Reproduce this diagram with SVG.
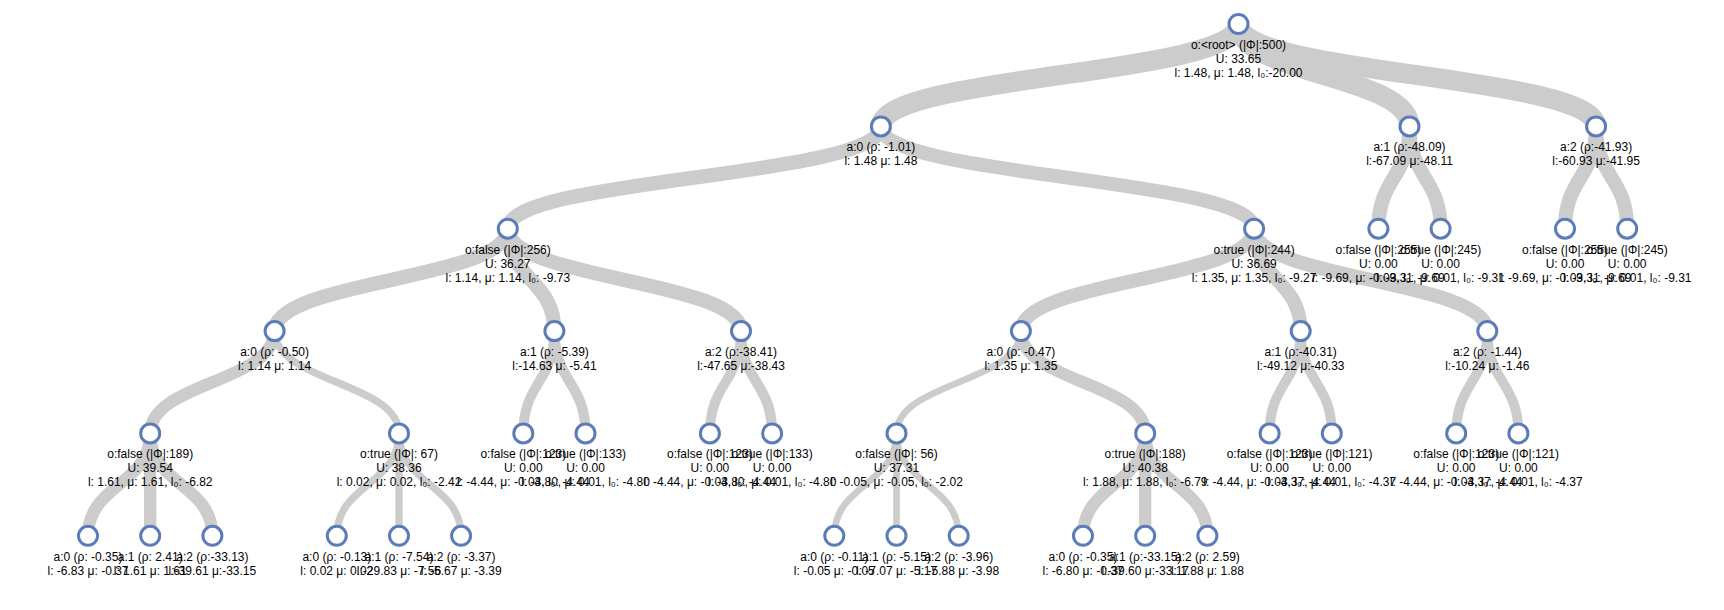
<svg xmlns="http://www.w3.org/2000/svg" width="1724" height="610" viewBox="0 0 1724 610">
<style>
.links path{fill:none;stroke:#ccc}
.node circle{fill:#fff;stroke:#5b7cb8;stroke-width:3}
.node text{font-family:"Liberation Sans",Arial,sans-serif;font-size:12px;fill:#000;text-anchor:middle}
</style>
<rect width="1724" height="610" fill="#fff"/>
<g id="links" class="links">
<path d="M1238.5,24C1238.5,75.2 880.9,75.2 880.9,126.4" stroke-width="20"/>
<path d="M1238.5,24C1238.5,75.2 1409.5,75.2 1409.5,126.4" stroke-width="20"/>
<path d="M1238.5,24C1238.5,75.2 1596.1,75.2 1596.1,126.4" stroke-width="20"/>
<path d="M880.9,126.4C880.9,177.55 507.8,177.55 507.8,228.7" stroke-width="14.31"/>
<path d="M880.9,126.4C880.9,177.55 1254.1,177.55 1254.1,228.7" stroke-width="13.97"/>
<path d="M1409.5,126.4C1409.5,177.55 1378.4,177.55 1378.4,228.7" stroke-width="14.28"/>
<path d="M1409.5,126.4C1409.5,177.55 1440.6,177.55 1440.6,228.7" stroke-width="14"/>
<path d="M1596.1,126.4C1596.1,177.55 1565,177.55 1565,228.7" stroke-width="14.28"/>
<path d="M1596.1,126.4C1596.1,177.55 1627.2,177.55 1627.2,228.7" stroke-width="14"/>
<path d="M507.8,228.7C507.8,279.9 274.6,279.9 274.6,331.1" stroke-width="14.31"/>
<path d="M507.8,228.7C507.8,279.9 554.4,279.9 554.4,331.1" stroke-width="14.31"/>
<path d="M507.8,228.7C507.8,279.9 741,279.9 741,331.1" stroke-width="14.31"/>
<path d="M1254.1,228.7C1254.1,279.9 1020.9,279.9 1020.9,331.1" stroke-width="13.97"/>
<path d="M1254.1,228.7C1254.1,279.9 1300.7,279.9 1300.7,331.1" stroke-width="13.97"/>
<path d="M1254.1,228.7C1254.1,279.9 1487.3,279.9 1487.3,331.1" stroke-width="13.97"/>
<path d="M274.6,331.1C274.6,382.25 150.2,382.25 150.2,433.4" stroke-width="12.3"/>
<path d="M274.6,331.1C274.6,382.25 399,382.25 399,433.4" stroke-width="7.32"/>
<path d="M554.4,331.1C554.4,382.25 523.3,382.25 523.3,433.4" stroke-width="9.92"/>
<path d="M554.4,331.1C554.4,382.25 585.5,382.25 585.5,433.4" stroke-width="10.31"/>
<path d="M741,331.1C741,382.25 709.9,382.25 709.9,433.4" stroke-width="9.92"/>
<path d="M741,331.1C741,382.25 772.1,382.25 772.1,433.4" stroke-width="10.31"/>
<path d="M1020.9,331.1C1020.9,382.25 896.5,382.25 896.5,433.4" stroke-width="6.69"/>
<path d="M1020.9,331.1C1020.9,382.25 1145.2,382.25 1145.2,433.4" stroke-width="12.26"/>
<path d="M1300.7,331.1C1300.7,382.25 1269.6,382.25 1269.6,433.4" stroke-width="9.92"/>
<path d="M1300.7,331.1C1300.7,382.25 1331.8,382.25 1331.8,433.4" stroke-width="9.84"/>
<path d="M1487.3,331.1C1487.3,382.25 1456.2,382.25 1456.2,433.4" stroke-width="9.92"/>
<path d="M1487.3,331.1C1487.3,382.25 1518.4,382.25 1518.4,433.4" stroke-width="9.84"/>
<path d="M150.2,433.4C150.2,484.6 88,484.6 88,535.8" stroke-width="12.3"/>
<path d="M150.2,433.4C150.2,484.6 150.2,484.6 150.2,535.8" stroke-width="12.3"/>
<path d="M150.2,433.4C150.2,484.6 212.4,484.6 212.4,535.8" stroke-width="12.3"/>
<path d="M399,433.4C399,484.6 336.8,484.6 336.8,535.8" stroke-width="7.32"/>
<path d="M399,433.4C399,484.6 399,484.6 399,535.8" stroke-width="7.32"/>
<path d="M399,433.4C399,484.6 461.1,484.6 461.1,535.8" stroke-width="7.32"/>
<path d="M896.5,433.4C896.5,484.6 834.3,484.6 834.3,535.8" stroke-width="6.69"/>
<path d="M896.5,433.4C896.5,484.6 896.5,484.6 896.5,535.8" stroke-width="6.69"/>
<path d="M896.5,433.4C896.5,484.6 958.7,484.6 958.7,535.8" stroke-width="6.69"/>
<path d="M1145.2,433.4C1145.2,484.6 1083,484.6 1083,535.8" stroke-width="12.26"/>
<path d="M1145.2,433.4C1145.2,484.6 1145.2,484.6 1145.2,535.8" stroke-width="12.26"/>
<path d="M1145.2,433.4C1145.2,484.6 1207.4,484.6 1207.4,535.8" stroke-width="12.26"/>
</g>
<g id="nodes">
<g id="n-root" class="node" transform="translate(1238.5,24)"><circle r="9.5"/><text y="25">o:&lt;root&gt; (|Φ|:500)</text><text y="39">U: 33.65</text><text y="53">l: 1.48, μ: 1.48, l₀:-20.00</text></g>
<g id="n-a0" class="node" transform="translate(880.9,126.4)"><circle r="9.5"/><text y="25">a:0 (ρ: -1.01)</text><text y="39">l: 1.48 μ: 1.48</text></g>
<g id="n-a1" class="node" transform="translate(1409.5,126.4)"><circle r="9.5"/><text y="25">a:1 (ρ:-48.09)</text><text y="39">l:-67.09 μ:-48.11</text></g>
<g id="n-a2" class="node" transform="translate(1596.1,126.4)"><circle r="9.5"/><text y="25">a:2 (ρ:-41.93)</text><text y="39">l:-60.93 μ:-41.95</text></g>
<g id="n-a0-of" class="node" transform="translate(507.8,228.7)"><circle r="9.5"/><text y="25">o:false (|Φ|:256)</text><text y="39">U: 36.27</text><text y="53">l: 1.14, μ: 1.14, l₀: -9.73</text></g>
<g id="n-a0-ot" class="node" transform="translate(1254.1,228.7)"><circle r="9.5"/><text y="25">o:true (|Φ|:244)</text><text y="39">U: 36.69</text><text y="53">l: 1.35, μ: 1.35, l₀: -9.27</text></g>
<g id="n-a1-of" class="node" transform="translate(1378.4,228.7)"><circle r="9.5"/><text y="25">o:false (|Φ|:255)</text><text y="39">U: 0.00</text><text y="53">l: -9.69, μ: -0.03, l₀: -9.69</text></g>
<g id="n-a1-ot" class="node" transform="translate(1440.6,228.7)"><circle r="9.5"/><text y="25">o:true (|Φ|:245)</text><text y="39">U: 0.00</text><text y="53">l: -9.31, μ: 0.01, l₀: -9.31</text></g>
<g id="n-a2-of" class="node" transform="translate(1565,228.7)"><circle r="9.5"/><text y="25">o:false (|Φ|:255)</text><text y="39">U: 0.00</text><text y="53">l: -9.69, μ: -0.03, l₀: -9.69</text></g>
<g id="n-a2-ot" class="node" transform="translate(1627.2,228.7)"><circle r="9.5"/><text y="25">o:true (|Φ|:245)</text><text y="39">U: 0.00</text><text y="53">l: -9.31, μ: 0.01, l₀: -9.31</text></g>
<g id="n-f-a0" class="node" transform="translate(274.6,331.1)"><circle r="9.5"/><text y="25">a:0 (ρ: -0.50)</text><text y="39">l: 1.14 μ: 1.14</text></g>
<g id="n-f-a1" class="node" transform="translate(554.4,331.1)"><circle r="9.5"/><text y="25">a:1 (ρ: -5.39)</text><text y="39">l:-14.63 μ: -5.41</text></g>
<g id="n-f-a2" class="node" transform="translate(741,331.1)"><circle r="9.5"/><text y="25">a:2 (ρ:-38.41)</text><text y="39">l:-47.65 μ:-38.43</text></g>
<g id="n-t-a0" class="node" transform="translate(1020.9,331.1)"><circle r="9.5"/><text y="25">a:0 (ρ: -0.47)</text><text y="39">l: 1.35 μ: 1.35</text></g>
<g id="n-t-a1" class="node" transform="translate(1300.7,331.1)"><circle r="9.5"/><text y="25">a:1 (ρ:-40.31)</text><text y="39">l:-49.12 μ:-40.33</text></g>
<g id="n-t-a2" class="node" transform="translate(1487.3,331.1)"><circle r="9.5"/><text y="25">a:2 (ρ: -1.44)</text><text y="39">l:-10.24 μ: -1.46</text></g>
<g id="n-f-a0-of" class="node" transform="translate(150.2,433.4)"><circle r="9.5"/><text y="25">o:false (|Φ|:189)</text><text y="39">U: 39.54</text><text y="53">l: 1.61, μ: 1.61, l₀: -6.82</text></g>
<g id="n-f-a0-ot" class="node" transform="translate(399,433.4)"><circle r="9.5"/><text y="25">o:true (|Φ|: 67)</text><text y="39">U: 38.36</text><text y="53">l: 0.02, μ: 0.02, l₀: -2.42</text></g>
<g id="n-f-a1-of" class="node" transform="translate(523.3,433.4)"><circle r="9.5"/><text y="25">o:false (|Φ|:123)</text><text y="39">U: 0.00</text><text y="53">l: -4.44, μ: -0.03, l₀: -4.44</text></g>
<g id="n-f-a1-ot" class="node" transform="translate(585.5,433.4)"><circle r="9.5"/><text y="25">o:true (|Φ|:133)</text><text y="39">U: 0.00</text><text y="53">l: -4.80, μ: 0.01, l₀: -4.80</text></g>
<g id="n-f-a2-of" class="node" transform="translate(709.9,433.4)"><circle r="9.5"/><text y="25">o:false (|Φ|:123)</text><text y="39">U: 0.00</text><text y="53">l: -4.44, μ: -0.03, l₀: -4.44</text></g>
<g id="n-f-a2-ot" class="node" transform="translate(772.1,433.4)"><circle r="9.5"/><text y="25">o:true (|Φ|:133)</text><text y="39">U: 0.00</text><text y="53">l: -4.80, μ: 0.01, l₀: -4.80</text></g>
<g id="n-t-a0-of" class="node" transform="translate(896.5,433.4)"><circle r="9.5"/><text y="25">o:false (|Φ|: 56)</text><text y="39">U: 37.31</text><text y="53">l: -0.05, μ: -0.05, l₀: -2.02</text></g>
<g id="n-t-a0-ot" class="node" transform="translate(1145.2,433.4)"><circle r="9.5"/><text y="25">o:true (|Φ|:188)</text><text y="39">U: 40.38</text><text y="53">l: 1.88, μ: 1.88, l₀: -6.79</text></g>
<g id="n-t-a1-of" class="node" transform="translate(1269.6,433.4)"><circle r="9.5"/><text y="25">o:false (|Φ|:123)</text><text y="39">U: 0.00</text><text y="53">l: -4.44, μ: -0.03, l₀: -4.44</text></g>
<g id="n-t-a1-ot" class="node" transform="translate(1331.8,433.4)"><circle r="9.5"/><text y="25">o:true (|Φ|:121)</text><text y="39">U: 0.00</text><text y="53">l: -4.37, μ: 0.01, l₀: -4.37</text></g>
<g id="n-t-a2-of" class="node" transform="translate(1456.2,433.4)"><circle r="9.5"/><text y="25">o:false (|Φ|:123)</text><text y="39">U: 0.00</text><text y="53">l: -4.44, μ: -0.03, l₀: -4.44</text></g>
<g id="n-t-a2-ot" class="node" transform="translate(1518.4,433.4)"><circle r="9.5"/><text y="25">o:true (|Φ|:121)</text><text y="39">U: 0.00</text><text y="53">l: -4.37, μ: 0.01, l₀: -4.37</text></g>
<g id="n-ff-a0" class="node" transform="translate(88,535.8)"><circle r="9.5"/><text y="25">a:0 (ρ: -0.35)</text><text y="39">l: -6.83 μ: -0.37</text></g>
<g id="n-ff-a1" class="node" transform="translate(150.2,535.8)"><circle r="9.5"/><text y="25">a:1 (ρ: 2.41)</text><text y="39">l: 1.61 μ: 1.61</text></g>
<g id="n-ff-a2" class="node" transform="translate(212.4,535.8)"><circle r="9.5"/><text y="25">a:2 (ρ:-33.13)</text><text y="39">l:-39.61 μ:-33.15</text></g>
<g id="n-ft-a0" class="node" transform="translate(336.8,535.8)"><circle r="9.5"/><text y="25">a:0 (ρ: -0.13)</text><text y="39">l: 0.02 μ: 0.02</text></g>
<g id="n-ft-a1" class="node" transform="translate(399,535.8)"><circle r="9.5"/><text y="25">a:1 (ρ: -7.54)</text><text y="39">l:-29.83 μ: -7.56</text></g>
<g id="n-ft-a2" class="node" transform="translate(461.1,535.8)"><circle r="9.5"/><text y="25">a:2 (ρ: -3.37)</text><text y="39">l: -5.67 μ: -3.39</text></g>
<g id="n-tf-a0" class="node" transform="translate(834.3,535.8)"><circle r="9.5"/><text y="25">a:0 (ρ: -0.11)</text><text y="39">l: -0.05 μ: -0.05</text></g>
<g id="n-tf-a1" class="node" transform="translate(896.5,535.8)"><circle r="9.5"/><text y="25">a:1 (ρ: -5.15)</text><text y="39">l: -7.07 μ: -5.17</text></g>
<g id="n-tf-a2" class="node" transform="translate(958.7,535.8)"><circle r="9.5"/><text y="25">a:2 (ρ: -3.96)</text><text y="39">l: -5.88 μ: -3.98</text></g>
<g id="n-tt-a0" class="node" transform="translate(1083,535.8)"><circle r="9.5"/><text y="25">a:0 (ρ: -0.35)</text><text y="39">l: -6.80 μ: -0.37</text></g>
<g id="n-tt-a1" class="node" transform="translate(1145.2,535.8)"><circle r="9.5"/><text y="25">a:1 (ρ:-33.15)</text><text y="39">l:-39.60 μ:-33.17</text></g>
<g id="n-tt-a2" class="node" transform="translate(1207.4,535.8)"><circle r="9.5"/><text y="25">a:2 (ρ: 2.59)</text><text y="39">l: 1.88 μ: 1.88</text></g>
</g>
</svg>
